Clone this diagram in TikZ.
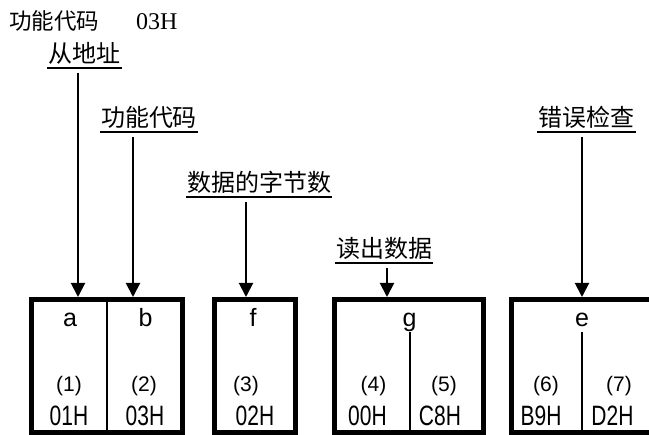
\documentclass[tikz,border=0pt]{standalone}
\usepackage{fontspec}
\usetikzlibrary{arrows.meta}
\newfontfamily\cjkfont{Noto Sans CJK SC}
\newfontfamily\latinserif{Liberation Serif}
\newfontfamily\latinsans{Liberation Sans}
\newfontfamily\latinnarrow[FakeStretch=0.75]{Liberation Sans}

\begin{document}
\begin{tikzpicture}[x=1pt,y=-1pt,
  field/.style={draw, line width=5pt, minimum width=#1, minimum height=133pt, inner sep=0pt},
  divider/.style={line width=2.4pt},
  uline/.style={draw, line width=1.8pt},
  ulabel/.style={font=\cjkfont\fontsize{24}{24}\selectfont, inner xsep=1pt, inner ysep=3.5pt,
    append after command={(\tikzlastnode.south west) edge[uline] (\tikzlastnode.south east)}},
  arr/.style={line width=2pt, shorten <=5pt, -{Triangle[length=14pt,width=14pt]}},
  letter/.style={font=\latinsans\fontsize{25}{25}\selectfont, inner sep=0pt, anchor=base},
  idx/.style={font=\latinsans\fontsize{21}{21}\selectfont, inner sep=0pt, anchor=base},
  hex/.style={font=\latinnarrow\fontsize{28}{28}\selectfont, inner sep=0pt, anchor=base}
]
\useasboundingbox (0,0) rectangle (649,435);
\clip (0,0) rectangle (649,435);

% heading line
\node[inner sep=0pt, anchor=base west] (head) at (9,29.3)
  {\cjkfont\fontsize{22.5}{22.5}\selectfont 功能代码\hspace{37pt}{\latinserif\fontsize{24}{24}\selectfont 03H}};

% frame fields
\node[field=151pt] (boxAB) at (107,366) {};
\node[field=81pt]  (boxF)  at (255,366) {};
\node[field=149pt] (boxG)  at (409,366) {};
\node[field=141pt] (boxE)  at (582,366) {};

\draw[divider] (boxAB.north) -- (boxAB.south);
\draw[divider] ([xshift=1pt,yshift=-35.5pt]boxG.north) -- ([xshift=1pt]boxG.south);
\draw[divider] ([yshift=-35.5pt]boxE.north) -- (boxE.south);

% field contents
\node[letter] (la) at (70,327) {a};
\node[letter] (lb) at (145.5,327) {b};
\node[letter] (lf) at (253,327) {f};
\node[letter] (lg) at (409.5,327) {g};
\node[letter] (le) at (582,327) {e};

\node[idx] (i1) at (69,391.5) {(1)};
\node[idx] (i2) at (144,391.5) {(2)};
\node[idx] (i3) at (246,391.5) {(3)};
\node[idx] (i4) at (373.5,391.5) {(4)};
\node[idx] (i5) at (444,391.5) {(5)};
\node[idx] (i6) at (546,391.5) {(6)};
\node[idx] (i7) at (619,391.5) {(7)};

\node[hex] (h1) at (69,426) {01H};
\node[hex] (h2) at (145,426) {03H};
\node[hex] (h3) at (255,426) {02H};
\node[hex] (h4) at (367.5,426) {00H};
\node[hex] (h5) at (440,426) {C8H};
\node[hex] (h6) at (541,426) {B9H};
\node[hex] (h7) at (612.5,426) {D2H};

% captions
\node[ulabel] (capA) at (84.5,53)  {从地址};
\node[ulabel] (capB) at (149,117.5) {功能代码};
\node[ulabel] (capF) at (259,182) {数据的字节数};
\node[ulabel] (capG) at (384,248.5) {读出数据};
\node[ulabel] (capE) at (586.5,117.5) {错误检查};

% arrow tips on the frame tops
\coordinate (pa) at (78,297);
\coordinate (pb) at (133,297);
\coordinate (pf) at (246,297);
\coordinate (pg) at (387,297);
\coordinate (pe) at (582,297);

\draw[arr] (capA.south -| pa) -- (pa);
\draw[arr] (capB.south -| pb) -- (pb);
\draw[arr] (capF.south -| pf) -- (pf);
\draw[arr] (capG.south -| pg) -- (pg);
\draw[arr] (capE.south -| pe) -- (pe);
\end{tikzpicture}
\end{document}
